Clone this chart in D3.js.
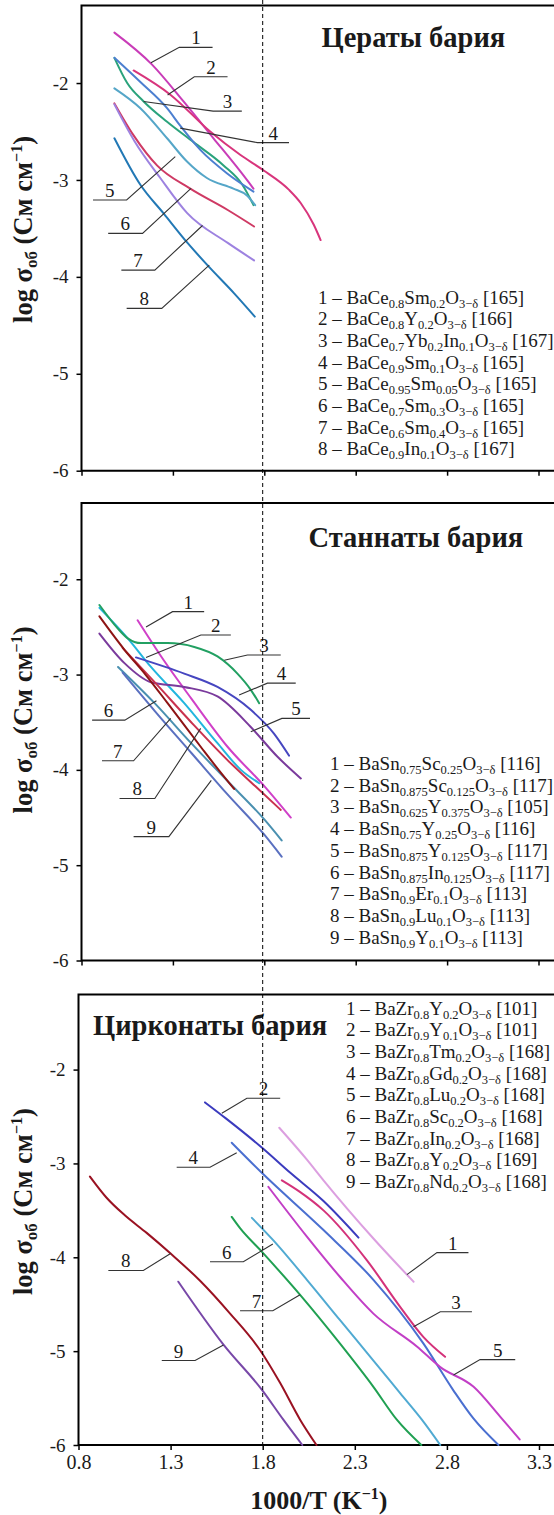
<!DOCTYPE html>
<html>
<head>
<meta charset="utf-8">
<script src="https://cdn.jsdelivr.net/npm/d3@7"></script>
<style>
    body { margin: 0; background: #fff; }
    svg { display: block; font-family: "Liberation Serif", "Times New Roman", serif; }
</style>
</head>
<body>
<svg id="chart" width="554" height="1515"></svg>
<script>

//  shared axes
const xTicks = [0.8, 1.3, 1.8, 2.3, 2.8, 3.3];
const yTicks = [-2, -3, -4, -5, -6];
const xDomain = [0.8, 3.3];
const yDomain = [-6, -1.2];
const markerX = 1.8;        //  dashed vertical line

//  ---------- Цераты бария ----------
const cerateTitle = "Цераты бария";
const cerateLegend = [
    "1 – BaCe_{0.8}Sm_{0.2}O_{3−δ} [165]",
    "2 – BaCe_{0.8}Y_{0.2}O_{3−δ} [166]",
    "3 – BaCe_{0.7}Yb_{0.2}In_{0.1}O_{3−δ} [167]",
    "4 – BaCe_{0.9}Sm_{0.1}O_{3−δ} [165]",
    "5 – BaCe_{0.95}Sm_{0.05}O_{3−δ} [165]",
    "6 – BaCe_{0.7}Sm_{0.3}O_{3−δ} [165]",
    "7 – BaCe_{0.6}Sm_{0.4}O_{3−δ} [165]",
    "8 – BaCe_{0.9}In_{0.1}O_{3−δ} [167]"
];
const cerateCurves = [
    [[0.98, -1.48], [1.186, -1.81], [1.358, -2.19], [1.522, -2.57], [1.668, -2.91], [1.741, -3.09]],
    [[1.085, -1.87], [1.286, -2.12], [1.504, -2.50], [1.668, -2.74], [1.795, -2.90], [1.934, -3.10], [2.0, -3.24], [2.07, -3.46], [2.108, -3.62]],
    [[0.98, -1.74], [1.05, -2.0], [1.14, -2.19], [1.268, -2.40], [1.413, -2.61], [1.577, -2.85], [1.68, -3.05], [1.741, -3.26]],
    [[0.98, -1.74], [1.122, -1.99], [1.268, -2.26], [1.34, -2.44], [1.45, -2.69], [1.595, -2.93], [1.741, -3.12]],
    [[0.98, -2.055], [1.122, -2.26], [1.268, -2.57], [1.377, -2.81], [1.486, -2.98], [1.631, -3.09], [1.705, -3.16], [1.75, -3.26]],
    [[0.98, -2.21], [1.085, -2.54], [1.213, -2.85], [1.395, -3.09], [1.6, -3.31], [1.744, -3.48]],
    [[0.98, -2.22], [1.09, -2.6], [1.231, -2.98], [1.377, -3.34], [1.6, -3.65], [1.744, -3.83]],
    [[0.98, -2.57], [1.122, -3.05], [1.249, -3.345], [1.38, -3.65], [1.499, -3.9], [1.635, -4.17], [1.748, -4.41]]
];
const cerateColors = ["#c93cb8", "#d8357c", "#2aa37c", "#4c7fd0", "#55a6c8", "#cf3a64", "#9d82e0", "#2278b5"];
//  label, point on curve (x, y), elbow (x, y), far end of the shelf (x)
const cerateLeaders = [
    ["1", 1.18, -1.79, 1.335, -1.632, 1.517],
    ["2", 1.271, -2.124, 1.417, -1.935, 1.599],
    ["3", 1.14, -2.19, 1.52, -2.29, 1.677],
    ["4", 1.34, -2.465, 1.762, -2.615, 1.935],
    ["5", 1.313, -2.76, 1.047, -3.207, 0.863],
    ["6", 1.399, -3.087, 1.134, -3.551, 0.946],
    ["7", 1.462, -3.47, 1.201, -3.93, 1.018],
    ["8", 1.499, -3.878, 1.239, -4.325, 1.047]
];

//  ---------- Станнаты бария ----------
const stannateTitle = "Станнаты бария";
const stannateLegend = [
    "1 – BaSn_{0.75}Sc_{0.25}O_{3−δ} [116]",
    "2 – BaSn_{0.875}Sc_{0.125}O_{3−δ} [117]",
    "3 – BaSn_{0.625}Y_{0.375}O_{3−δ} [105]",
    "4 – BaSn_{0.75}Y_{0.25}O_{3−δ} [116]",
    "5 – BaSn_{0.875}Y_{0.125}O_{3−δ} [117]",
    "6 – BaSn_{0.875}In_{0.125}O_{3−δ} [117]",
    "7 – BaSn_{0.9}Er_{0.1}O_{3−δ} [113]",
    "8 – BaSn_{0.9}Lu_{0.1}O_{3−δ} [113]",
    "9 – BaSn_{0.9}Y_{0.1}O_{3−δ} [113]"
];
const stannateCurves = [
    [[1.107, -2.43], [1.25, -2.85], [1.4, -3.25], [1.6, -3.76], [1.8, -4.17], [1.945, -4.50]],
    [[0.898, -2.30], [1.053, -2.62], [1.18, -2.92], [1.362, -3.30], [1.544, -3.72], [1.672, -4.0], [1.772, -4.14]],
    [[0.898, -2.27], [1.0, -2.52], [1.053, -2.62], [1.126, -2.67], [1.271, -2.67], [1.417, -2.71], [1.544, -2.81], [1.653, -2.99], [1.726, -3.16], [1.772, -3.30]],
    [[1.098, -2.82], [1.362, -2.99], [1.544, -3.13], [1.726, -3.37], [1.853, -3.62], [1.935, -3.85]],
    [[0.898, -2.57], [1.035, -2.88], [1.18, -3.08], [1.362, -3.13], [1.544, -3.23], [1.726, -3.55], [1.871, -3.86], [2.0, -4.09]],
    [[1.025, -2.72], [1.2, -3.08], [1.4, -3.5], [1.6, -3.9], [1.75, -4.17], [1.89, -4.42]],
    [[1.0, -2.92], [1.2, -3.3], [1.4, -3.72], [1.6, -4.12], [1.8, -4.52], [1.895, -4.74]],
    [[0.898, -2.39], [1.035, -2.74], [1.15, -3.0], [1.271, -3.30], [1.453, -3.76], [1.55, -4.0], [1.635, -4.20]],
    [[1.025, -2.98], [1.2, -3.38], [1.4, -3.82], [1.6, -4.26], [1.8, -4.68], [1.895, -4.91]]
];
const stannateColors = ["#d040c8", "#22b6de", "#22a062", "#4646c0", "#7a3a9c", "#c9324e", "#4a90b0", "#8e1414", "#5a70c0"];
const stannateLeaders = [
    ["1", 1.153, -2.50, 1.298, -2.34, 1.471],
    ["2", 1.153, -2.82, 1.453, -2.585, 1.617],
    ["3", 1.581, -2.85, 1.708, -2.795, 1.89],
    ["4", 1.662, -3.215, 1.817, -3.09, 1.972],
    ["5", 1.726, -3.60, 1.896, -3.46, 2.05],
    ["6", 1.21, -3.275, 1.037, -3.478, 0.858],
    ["7", 1.288, -3.46, 1.085, -3.905, 0.912],
    ["8", 1.452, -3.565, 1.201, -4.30, 1.008],
    ["9", 1.51, -4.11, 1.278, -4.70, 1.085]
];

//  ---------- Цирконаты бария ----------
const zirconateTitle = "Цирконаты бария";
const zirconateLegend = [
    "1 – BaZr_{0.8}Y_{0.2}O_{3−δ} [101]",
    "2 – BaZr_{0.9}Y_{0.1}O_{3−δ} [101]",
    "3 – BaZr_{0.8}Tm_{0.2}O_{3−δ} [168]",
    "4 – BaZr_{0.8}Gd_{0.2}O_{3−δ} [168]",
    "5 – BaZr_{0.8}Lu_{0.2}O_{3−δ} [168]",
    "6 – BaZr_{0.8}Sc_{0.2}O_{3−δ} [168]",
    "7 – BaZr_{0.8}In_{0.2}O_{3−δ} [168]",
    "8 – BaZr_{0.8}Y_{0.2}O_{3−δ} [169]",
    "9 – BaZr_{0.8}Nd_{0.2}O_{3−δ} [168]"
];
const zirconateCurves = [
    [[1.89, -2.62], [2.04, -2.96], [2.13, -3.18], [2.401, -3.80], [2.619, -4.26]],
    [[1.487, -2.35], [1.6, -2.52], [1.795, -2.83], [1.95, -3.1], [2.13, -3.4], [2.32, -3.79]],
    [[1.904, -3.18], [2.0, -3.3], [2.13, -3.50], [2.365, -4.03], [2.547, -4.53], [2.673, -4.85], [2.79, -5.06]],
    [[1.632, -2.78], [1.795, -3.1], [2.13, -3.71], [2.401, -4.24], [2.673, -4.92], [2.836, -5.42], [2.945, -5.72], [3.08, -6.0]],
    [[1.831, -3.25], [2.04, -3.78], [2.22, -4.21], [2.401, -4.60], [2.637, -4.95], [2.764, -5.17], [2.945, -5.38], [3.09, -5.70], [3.195, -5.94]],
    [[1.741, -3.58], [1.858, -3.82], [2.04, -4.24], [2.22, -4.67], [2.401, -5.1], [2.547, -5.45], [2.664, -5.73], [2.764, -6.0]],
    [[1.632, -3.57], [1.677, -3.69], [1.795, -3.94], [2.003, -4.40], [2.22, -4.92], [2.401, -5.38], [2.528, -5.73], [2.661, -6.0]],
    [[0.862, -3.14], [0.95, -3.36], [1.05, -3.55], [1.17, -3.74], [1.3, -3.96], [1.46, -4.25], [1.623, -4.60], [1.786, -4.99], [1.895, -5.34], [2.003, -5.73], [2.092, -6.0]],
    [[1.342, -4.26], [1.587, -4.93], [1.795, -5.41], [1.912, -5.73], [2.015, -6.0]]
];
const zirconateColors = ["#dc9fe0", "#3b3bbe", "#d4327a", "#4a6fd0", "#c23fc6", "#50aad2", "#20a052", "#9a1222", "#7848a8"];
const zirconateLeaders = [
    ["1", 2.583, -4.185, 2.746, -3.95, 2.917],
    ["2", 1.578, -2.465, 1.714, -2.305, 1.895],
    ["3", 2.619, -4.74, 2.764, -4.58, 2.936],
    ["4", 1.659, -2.885, 1.514, -3.04, 1.333],
    ["5", 2.836, -5.255, 2.98, -5.09, 3.171],
    ["6", 1.855, -3.858, 1.695, -4.047, 1.514],
    ["7", 2.003, -4.40, 1.855, -4.57, 1.677],
    ["8", 1.3, -3.96, 1.152, -4.14, 0.962],
    ["9", 1.587, -4.935, 1.433, -5.10, 1.252]
];

//  layout of the three stacked panels
const panels = [
    {
        title: cerateTitle, legend: cerateLegend, curves: cerateCurves, colors: cerateColors, leaders: cerateLeaders,
        left: 81.5, right: 538.5, top: 5.5, bottom: 470.7,
        titlePos: [321.5, 46.5], legendPos: [318, 303.5, 21.7], yTitleY: 229.5, xLabels: false
    },
    {
        title: stannateTitle, legend: stannateLegend, curves: stannateCurves, colors: stannateColors, leaders: stannateLeaders,
        left: 81.5, right: 538.5, top: 503, bottom: 960.5,
        titlePos: [308.5, 546.5], legendPos: [330, 770, 21.7], yTitleY: 720, xLabels: false
    },
    {
        title: zirconateTitle, legend: zirconateLegend, curves: zirconateCurves, colors: zirconateColors, leaders: zirconateLeaders,
        left: 78.5, right: 539, top: 994.5, bottom: 1445,
        titlePos: [93, 1034.5], legendPos: [346, 1014.5, 21.7], yTitleY: 1201.6, xLabels: true
    }
];

const svg = d3.select("#chart");
const ink = "#1a1a1a";

//  "BaCe_{0.8}..." -> tspans with subscripts
function addFormula(textSel, s, subSize, shift) {
    const parts = s.split(/_\{([^}]*)\}/);
    let down = false;
    parts.forEach((part, k) => {
        if (part === "") return;
        const ts = textSel.append("tspan").text(part);
        if (k % 2 === 1) {
            ts.attr("font-size", subSize);
            if (!down) ts.attr("dy", shift);
            down = true;
        } else {
            if (down) ts.attr("dy", -shift);
            down = false;
        }
    });
}

let lastX = null;

panels.forEach(p => {
    const x = d3.scaleLinear().domain(xDomain).range([p.left, p.right]);
    const y = d3.scaleLinear().domain(yDomain).range([p.bottom, p.top]);
    lastX = x;
    const g = svg.append("g");
    const yTop = y(yDomain[1]);
    const yBot = y(yDomain[0]);

    //  frame: top, left and bottom, running off the right edge
    g.append("path")
        .attr("d", `M554,${yTop}H${x(xDomain[0])}V${yBot}H554`)
        .attr("fill", "none")
        .attr("stroke", "#000")
        .attr("stroke-width", 2);

    //  axes
    g.append("g")
        .attr("transform", `translate(${x(xDomain[0])},0)`)
        .call(d3.axisLeft(y).tickValues(yTicks).tickSize(5).tickPadding(8).tickFormat(d => String(d)))
        .call(a => a.select(".domain").remove())
        .attr("font-family", null)
        .attr("font-size", 19)
        .call(a => a.selectAll("line").attr("stroke-width", 1.5))
        .call(a => a.selectAll("text").attr("fill", ink));

    g.append("g")
        .attr("transform", `translate(0,${yBot})`)
        .call(d3.axisBottom(x).tickValues(xTicks).tickSize(5).tickPadding(5)
            .tickFormat(p.xLabels ? d3.format(".1f") : ""))
        .call(a => a.select(".domain").remove())
        .attr("font-family", null)
        .attr("font-size", 20)
        .call(a => a.selectAll("line").attr("stroke-width", 1.5))
        .call(a => a.selectAll("text").attr("fill", ink));

    //  curves
    const line = d3.line()
        .x(d => x(d[0]))
        .y(d => y(d[1]))
        .curve(d3.curveMonotoneX);

    g.selectAll("path.curve")
        .data(p.curves)
        .join("path")
        .attr("class", "curve")
        .attr("d", line)
        .attr("fill", "none")
        .attr("stroke", (d, i) => p.colors[i])
        .attr("stroke-width", 2)
        .attr("stroke-linecap", "round");

    //  numbered leaders
    p.leaders.forEach(([label, tx, ty, ex, ey, hx]) => {
        g.append("path")
            .attr("d", `M${x(tx)},${y(ty)}L${x(ex)},${y(ey)}H${x(hx)}`)
            .attr("fill", "none")
            .attr("stroke", "#333")
            .attr("stroke-width", 1.1);
        g.append("text")
            .attr("x", (x(ex) + x(hx)) / 2)
            .attr("y", y(ey) - 3)
            .attr("text-anchor", "middle")
            .attr("font-size", 19)
            .attr("fill", ink)
            .text(label);
    });

    //  panel title
    g.append("text")
        .attr("x", p.titlePos[0])
        .attr("y", p.titlePos[1])
        .attr("font-size", 28.5)
        .attr("font-weight", "bold")
        .attr("fill", ink)
        .text(p.title);

    //  legend
    const [lx, ly, step] = p.legendPos;
    p.legend.forEach((s, i) => {
        const t = g.append("text")
            .attr("x", lx)
            .attr("y", ly + i * step)
            .attr("font-size", 19)
            .attr("fill", ink);
        addFormula(t, s, 12.5, 4);
    });

    //  y title
    const yt = g.append("text")
        .attr("transform", `translate(32,${p.yTitleY}) rotate(-90)`)
        .attr("text-anchor", "middle")
        .attr("font-size", 26.5)
        .attr("font-weight", "bold")
        .attr("fill", ink);
    yt.append("tspan").text("log σ");
    yt.append("tspan").attr("font-size", 17).attr("dy", 5).text("об");
    yt.append("tspan").attr("dy", -5).text(" (См см");
    yt.append("tspan").attr("font-size", 16).attr("dy", -10).text("−1");
    yt.append("tspan").attr("dy", 10).text(")");
});

//  x title under the last panel
const xt = svg.append("text")
    .attr("x", 318.8)
    .attr("y", 1509)
    .attr("text-anchor", "middle")
    .attr("font-size", 26)
    .attr("font-weight", "bold")
    .attr("fill", ink);
xt.append("tspan").text("1000/T (K");
xt.append("tspan").attr("font-size", 16).attr("dy", -10).text("−1");
xt.append("tspan").attr("dy", 10).text(")");

//  dashed marker at 1000/T = 1.8 through all panels
svg.append("line")
    .attr("x1", lastX(markerX))
    .attr("x2", lastX(markerX))
    .attr("y1", 0)
    .attr("y2", panels[2].bottom)
    .attr("stroke", "#000")
    .attr("stroke-width", 1)
    .attr("stroke-dasharray", "4,3");

</script>
</body>
</html>
